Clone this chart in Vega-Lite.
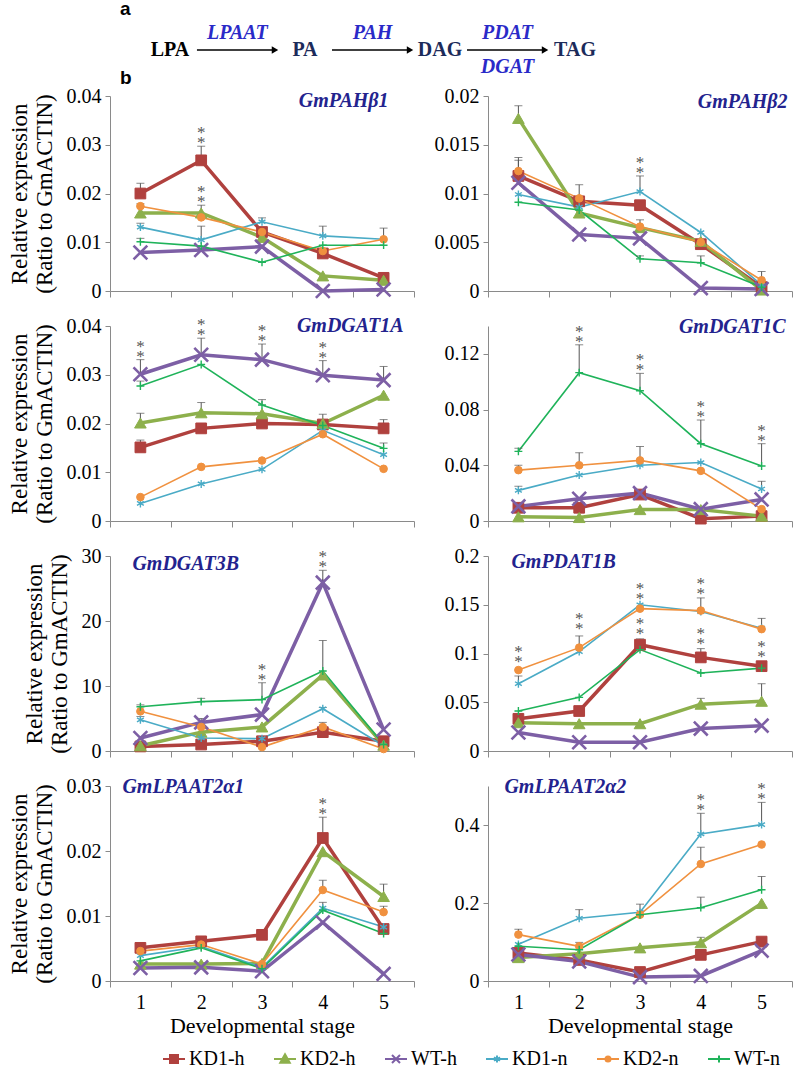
{
"$schema": "https://vega.github.io/schema/vega-lite/v6.json",
"padding": {"left": 8, "top": 0, "right": 0, "bottom": 0},
"bounds": "flush",
"spacing": 29,
"datasets": {
"expr": [
{"gene":"GmPAHβ1","stage":1,"series":"KD1-h","value":0.020,"upper":0.0221},
{"gene":"GmPAHβ1","stage":2,"series":"KD1-h","value":0.0268,"upper":0.0297},
{"gene":"GmPAHβ1","stage":3,"series":"KD1-h","value":0.0121,"upper":0.013},
{"gene":"GmPAHβ1","stage":4,"series":"KD1-h","value":0.0077},
{"gene":"GmPAHβ1","stage":5,"series":"KD1-h","value":0.0027},
{"gene":"GmPAHβ1","stage":1,"series":"KD2-h","value":0.016},
{"gene":"GmPAHβ1","stage":2,"series":"KD2-h","value":0.016,"upper":0.0176},
{"gene":"GmPAHβ1","stage":3,"series":"KD2-h","value":0.011},
{"gene":"GmPAHβ1","stage":4,"series":"KD2-h","value":0.0031},
{"gene":"GmPAHβ1","stage":5,"series":"KD2-h","value":0.0022},
{"gene":"GmPAHβ1","stage":1,"series":"WT-h","value":0.0079},
{"gene":"GmPAHβ1","stage":2,"series":"WT-h","value":0.0084},
{"gene":"GmPAHβ1","stage":3,"series":"WT-h","value":0.0091},
{"gene":"GmPAHβ1","stage":4,"series":"WT-h","value":0.0},
{"gene":"GmPAHβ1","stage":5,"series":"WT-h","value":0.0003},
{"gene":"GmPAHβ1","stage":1,"series":"KD1-n","value":0.0131,"upper":0.0139},
{"gene":"GmPAHβ1","stage":2,"series":"KD1-n","value":0.0105,"upper":0.0133},
{"gene":"GmPAHβ1","stage":3,"series":"KD1-n","value":0.0142,"upper":0.015},
{"gene":"GmPAHβ1","stage":4,"series":"KD1-n","value":0.0113,"upper":0.0133},
{"gene":"GmPAHβ1","stage":5,"series":"KD1-n","value":0.0106,"upper":0.0129},
{"gene":"GmPAHβ1","stage":1,"series":"KD2-n","value":0.0174,"upper":0.0179},
{"gene":"GmPAHβ1","stage":2,"series":"KD2-n","value":0.0151},
{"gene":"GmPAHβ1","stage":3,"series":"KD2-n","value":0.0121},
{"gene":"GmPAHβ1","stage":4,"series":"KD2-n","value":0.0082},
{"gene":"GmPAHβ1","stage":5,"series":"KD2-n","value":0.0106},
{"gene":"GmPAHβ1","stage":1,"series":"WT-n","value":0.0101,"upper":0.0108},
{"gene":"GmPAHβ1","stage":2,"series":"WT-n","value":0.0092},
{"gene":"GmPAHβ1","stage":3,"series":"WT-n","value":0.0059},
{"gene":"GmPAHβ1","stage":4,"series":"WT-n","value":0.0094},
{"gene":"GmPAHβ1","stage":5,"series":"WT-n","value":0.0094},

{"gene":"GmPAHβ2","stage":1,"series":"KD1-h","value":0.0118,"upper":0.0134},
{"gene":"GmPAHβ2","stage":2,"series":"KD1-h","value":0.0092},
{"gene":"GmPAHβ2","stage":3,"series":"KD1-h","value":0.0088},
{"gene":"GmPAHβ2","stage":4,"series":"KD1-h","value":0.0048},
{"gene":"GmPAHβ2","stage":5,"series":"KD1-h","value":0.0004},
{"gene":"GmPAHβ2","stage":1,"series":"KD2-h","value":0.0177,"upper":0.019},
{"gene":"GmPAHβ2","stage":2,"series":"KD2-h","value":0.008},
{"gene":"GmPAHβ2","stage":3,"series":"KD2-h","value":0.0065,"upper":0.0073},
{"gene":"GmPAHβ2","stage":4,"series":"KD2-h","value":0.0051},
{"gene":"GmPAHβ2","stage":5,"series":"KD2-h","value":0.0001},
{"gene":"GmPAHβ2","stage":1,"series":"WT-h","value":0.0111},
{"gene":"GmPAHβ2","stage":2,"series":"WT-h","value":0.0058},
{"gene":"GmPAHβ2","stage":3,"series":"WT-h","value":0.0054},
{"gene":"GmPAHβ2","stage":4,"series":"WT-h","value":0.0003},
{"gene":"GmPAHβ2","stage":5,"series":"WT-h","value":0.0002},
{"gene":"GmPAHβ2","stage":1,"series":"KD1-n","value":0.0099},
{"gene":"GmPAHβ2","stage":2,"series":"KD1-n","value":0.0086},
{"gene":"GmPAHβ2","stage":3,"series":"KD1-n","value":0.0102,"upper":0.0118},
{"gene":"GmPAHβ2","stage":4,"series":"KD1-n","value":0.006},
{"gene":"GmPAHβ2","stage":5,"series":"KD1-n","value":0.0006},
{"gene":"GmPAHβ2","stage":1,"series":"KD2-n","value":0.0123,"upper":0.0137},
{"gene":"GmPAHβ2","stage":2,"series":"KD2-n","value":0.0095,"upper":0.0109},
{"gene":"GmPAHβ2","stage":3,"series":"KD2-n","value":0.0066},
{"gene":"GmPAHβ2","stage":4,"series":"KD2-n","value":0.005},
{"gene":"GmPAHβ2","stage":5,"series":"KD2-n","value":0.0011,"upper":0.002},
{"gene":"GmPAHβ2","stage":1,"series":"WT-n","value":0.0091},
{"gene":"GmPAHβ2","stage":2,"series":"WT-n","value":0.0083},
{"gene":"GmPAHβ2","stage":3,"series":"WT-n","value":0.0033,"upper":0.0036},
{"gene":"GmPAHβ2","stage":4,"series":"WT-n","value":0.0029,"upper":0.0036},
{"gene":"GmPAHβ2","stage":5,"series":"WT-n","value":0.0004},

{"gene":"GmDGAT1A","stage":1,"series":"KD1-h","value":0.0151,"upper":0.0166},
{"gene":"GmDGAT1A","stage":2,"series":"KD1-h","value":0.019},
{"gene":"GmDGAT1A","stage":3,"series":"KD1-h","value":0.02},
{"gene":"GmDGAT1A","stage":4,"series":"KD1-h","value":0.0198,"upper":0.0219},
{"gene":"GmDGAT1A","stage":5,"series":"KD1-h","value":0.019,"upper":0.0208},
{"gene":"GmDGAT1A","stage":1,"series":"KD2-h","value":0.0201,"upper":0.0221},
{"gene":"GmDGAT1A","stage":2,"series":"KD2-h","value":0.0222,"upper":0.0243},
{"gene":"GmDGAT1A","stage":3,"series":"KD2-h","value":0.022},
{"gene":"GmDGAT1A","stage":4,"series":"KD2-h","value":0.02},
{"gene":"GmDGAT1A","stage":5,"series":"KD2-h","value":0.0258},
{"gene":"GmDGAT1A","stage":1,"series":"WT-h","value":0.0301,"upper":0.0331},
{"gene":"GmDGAT1A","stage":2,"series":"WT-h","value":0.0341,"upper":0.0375},
{"gene":"GmDGAT1A","stage":3,"series":"WT-h","value":0.0331,"upper":0.0363},
{"gene":"GmDGAT1A","stage":4,"series":"WT-h","value":0.0299,"upper":0.0329},
{"gene":"GmDGAT1A","stage":5,"series":"WT-h","value":0.0289,"upper":0.0317},
{"gene":"GmDGAT1A","stage":1,"series":"KD1-n","value":0.0036},
{"gene":"GmDGAT1A","stage":2,"series":"KD1-n","value":0.0076},
{"gene":"GmDGAT1A","stage":3,"series":"KD1-n","value":0.0106},
{"gene":"GmDGAT1A","stage":4,"series":"KD1-n","value":0.0186},
{"gene":"GmDGAT1A","stage":5,"series":"KD1-n","value":0.0136},
{"gene":"GmDGAT1A","stage":1,"series":"KD2-n","value":0.0049},
{"gene":"GmDGAT1A","stage":2,"series":"KD2-n","value":0.0111},
{"gene":"GmDGAT1A","stage":3,"series":"KD2-n","value":0.0124},
{"gene":"GmDGAT1A","stage":4,"series":"KD2-n","value":0.0178},
{"gene":"GmDGAT1A","stage":5,"series":"KD2-n","value":0.0107},
{"gene":"GmDGAT1A","stage":1,"series":"WT-n","value":0.0277,"upper":0.0287},
{"gene":"GmDGAT1A","stage":2,"series":"WT-n","value":0.0321},
{"gene":"GmDGAT1A","stage":3,"series":"WT-n","value":0.0238,"upper":0.0249},
{"gene":"GmDGAT1A","stage":4,"series":"WT-n","value":0.0196},
{"gene":"GmDGAT1A","stage":5,"series":"WT-n","value":0.0149,"upper":0.016},

{"gene":"GmDGAT1C","stage":1,"series":"KD1-h","value":0.0095},
{"gene":"GmDGAT1C","stage":2,"series":"KD1-h","value":0.0095},
{"gene":"GmDGAT1C","stage":3,"series":"KD1-h","value":0.019},
{"gene":"GmDGAT1C","stage":4,"series":"KD1-h","value":0.0017},
{"gene":"GmDGAT1C","stage":5,"series":"KD1-h","value":0.0035},
{"gene":"GmDGAT1C","stage":1,"series":"KD2-h","value":0.003},
{"gene":"GmDGAT1C","stage":2,"series":"KD2-h","value":0.0025},
{"gene":"GmDGAT1C","stage":3,"series":"KD2-h","value":0.0082},
{"gene":"GmDGAT1C","stage":4,"series":"KD2-h","value":0.0082},
{"gene":"GmDGAT1C","stage":5,"series":"KD2-h","value":0.0035},
{"gene":"GmDGAT1C","stage":1,"series":"WT-h","value":0.0105},
{"gene":"GmDGAT1C","stage":2,"series":"WT-h","value":0.016},
{"gene":"GmDGAT1C","stage":3,"series":"WT-h","value":0.02},
{"gene":"GmDGAT1C","stage":4,"series":"WT-h","value":0.0085},
{"gene":"GmDGAT1C","stage":5,"series":"WT-h","value":0.0155},
{"gene":"GmDGAT1C","stage":1,"series":"KD1-n","value":0.022,"upper":0.025},
{"gene":"GmDGAT1C","stage":2,"series":"KD1-n","value":0.033},
{"gene":"GmDGAT1C","stage":3,"series":"KD1-n","value":0.04},
{"gene":"GmDGAT1C","stage":4,"series":"KD1-n","value":0.042},
{"gene":"GmDGAT1C","stage":5,"series":"KD1-n","value":0.023,"upper":0.0285},
{"gene":"GmDGAT1C","stage":1,"series":"KD2-n","value":0.0365,"upper":0.04},
{"gene":"GmDGAT1C","stage":2,"series":"KD2-n","value":0.04,"upper":0.049},
{"gene":"GmDGAT1C","stage":3,"series":"KD2-n","value":0.0435,"upper":0.0535},
{"gene":"GmDGAT1C","stage":4,"series":"KD2-n","value":0.036},
{"gene":"GmDGAT1C","stage":5,"series":"KD2-n","value":0.0085},
{"gene":"GmDGAT1C","stage":1,"series":"WT-n","value":0.05,"upper":0.0523},
{"gene":"GmDGAT1C","stage":2,"series":"WT-n","value":0.1065,"upper":0.1265},
{"gene":"GmDGAT1C","stage":3,"series":"WT-n","value":0.0935,"upper":0.106},
{"gene":"GmDGAT1C","stage":4,"series":"WT-n","value":0.0555,"upper":0.0725},
{"gene":"GmDGAT1C","stage":5,"series":"WT-n","value":0.0395,"upper":0.0555},

{"gene":"GmDGAT3B","stage":1,"series":"KD1-h","value":0.7},
{"gene":"GmDGAT3B","stage":2,"series":"KD1-h","value":1.0},
{"gene":"GmDGAT3B","stage":3,"series":"KD1-h","value":1.5},
{"gene":"GmDGAT3B","stage":4,"series":"KD1-h","value":2.9,"upper":3.8},
{"gene":"GmDGAT3B","stage":5,"series":"KD1-h","value":1.5},
{"gene":"GmDGAT3B","stage":1,"series":"KD2-h","value":0.8},
{"gene":"GmDGAT3B","stage":2,"series":"KD2-h","value":2.9},
{"gene":"GmDGAT3B","stage":3,"series":"KD2-h","value":3.7},
{"gene":"GmDGAT3B","stage":4,"series":"KD2-h","value":11.7},
{"gene":"GmDGAT3B","stage":5,"series":"KD2-h","value":0.9},
{"gene":"GmDGAT3B","stage":1,"series":"WT-h","value":2.0},
{"gene":"GmDGAT3B","stage":2,"series":"WT-h","value":4.4,"upper":5.0},
{"gene":"GmDGAT3B","stage":3,"series":"WT-h","value":5.6},
{"gene":"GmDGAT3B","stage":4,"series":"WT-h","value":25.9,"upper":27.8},
{"gene":"GmDGAT3B","stage":5,"series":"WT-h","value":3.3},
{"gene":"GmDGAT3B","stage":1,"series":"KD1-n","value":4.8,"upper":5.3},
{"gene":"GmDGAT3B","stage":2,"series":"KD1-n","value":2.0},
{"gene":"GmDGAT3B","stage":3,"series":"KD1-n","value":1.9},
{"gene":"GmDGAT3B","stage":4,"series":"KD1-n","value":6.5,"upper":6.7},
{"gene":"GmDGAT3B","stage":5,"series":"KD1-n","value":0.8},
{"gene":"GmDGAT3B","stage":1,"series":"KD2-n","value":6.1},
{"gene":"GmDGAT3B","stage":2,"series":"KD2-n","value":3.7},
{"gene":"GmDGAT3B","stage":3,"series":"KD2-n","value":0.6},
{"gene":"GmDGAT3B","stage":4,"series":"KD2-n","value":3.7,"upper":4.4},
{"gene":"GmDGAT3B","stage":5,"series":"KD2-n","value":0.3},
{"gene":"GmDGAT3B","stage":1,"series":"WT-n","value":6.8,"upper":7.1},
{"gene":"GmDGAT3B","stage":2,"series":"WT-n","value":7.6,"upper":8.1},
{"gene":"GmDGAT3B","stage":3,"series":"WT-n","value":7.9,"upper":10.5},
{"gene":"GmDGAT3B","stage":4,"series":"WT-n","value":12.3,"upper":17.0},
{"gene":"GmDGAT3B","stage":5,"series":"WT-n","value":1.0},

{"gene":"GmPDAT1B","stage":1,"series":"KD1-h","value":0.033},
{"gene":"GmPDAT1B","stage":2,"series":"KD1-h","value":0.041},
{"gene":"GmPDAT1B","stage":3,"series":"KD1-h","value":0.109,"upper":0.115},
{"gene":"GmPDAT1B","stage":4,"series":"KD1-h","value":0.096,"upper":0.105},
{"gene":"GmPDAT1B","stage":5,"series":"KD1-h","value":0.087},
{"gene":"GmPDAT1B","stage":1,"series":"KD2-h","value":0.029},
{"gene":"GmPDAT1B","stage":2,"series":"KD2-h","value":0.028},
{"gene":"GmPDAT1B","stage":3,"series":"KD2-h","value":0.028},
{"gene":"GmPDAT1B","stage":4,"series":"KD2-h","value":0.048,"upper":0.054},
{"gene":"GmPDAT1B","stage":5,"series":"KD2-h","value":0.051,"upper":0.069},
{"gene":"GmPDAT1B","stage":1,"series":"WT-h","value":0.019},
{"gene":"GmPDAT1B","stage":2,"series":"WT-h","value":0.009},
{"gene":"GmPDAT1B","stage":3,"series":"WT-h","value":0.009},
{"gene":"GmPDAT1B","stage":4,"series":"WT-h","value":0.023},
{"gene":"GmPDAT1B","stage":5,"series":"WT-h","value":0.026},
{"gene":"GmPDAT1B","stage":1,"series":"KD1-n","value":0.069,"upper":0.077},
{"gene":"GmPDAT1B","stage":2,"series":"KD1-n","value":0.102},
{"gene":"GmPDAT1B","stage":3,"series":"KD1-n","value":0.15},
{"gene":"GmPDAT1B","stage":4,"series":"KD1-n","value":0.143},
{"gene":"GmPDAT1B","stage":5,"series":"KD1-n","value":0.126},
{"gene":"GmPDAT1B","stage":1,"series":"KD2-n","value":0.083},
{"gene":"GmPDAT1B","stage":2,"series":"KD2-n","value":0.106,"upper":0.118},
{"gene":"GmPDAT1B","stage":3,"series":"KD2-n","value":0.146},
{"gene":"GmPDAT1B","stage":4,"series":"KD2-n","value":0.144,"upper":0.157},
{"gene":"GmPDAT1B","stage":5,"series":"KD2-n","value":0.125,"upper":0.136},
{"gene":"GmPDAT1B","stage":1,"series":"WT-n","value":0.041},
{"gene":"GmPDAT1B","stage":2,"series":"WT-n","value":0.055},
{"gene":"GmPDAT1B","stage":3,"series":"WT-n","value":0.104},
{"gene":"GmPDAT1B","stage":4,"series":"WT-n","value":0.08},
{"gene":"GmPDAT1B","stage":5,"series":"WT-n","value":0.085},

{"gene":"GmLPAAT2α1","stage":1,"series":"KD1-h","value":0.0051},
{"gene":"GmLPAAT2α1","stage":2,"series":"KD1-h","value":0.0061},
{"gene":"GmLPAAT2α1","stage":3,"series":"KD1-h","value":0.0071},
{"gene":"GmLPAAT2α1","stage":4,"series":"KD1-h","value":0.022,"upper":0.0252},
{"gene":"GmLPAAT2α1","stage":5,"series":"KD1-h","value":0.008},
{"gene":"GmLPAAT2α1","stage":1,"series":"KD2-h","value":0.0026},
{"gene":"GmLPAAT2α1","stage":2,"series":"KD2-h","value":0.0026},
{"gene":"GmLPAAT2α1","stage":3,"series":"KD2-h","value":0.0027},
{"gene":"GmLPAAT2α1","stage":4,"series":"KD2-h","value":0.0199},
{"gene":"GmLPAAT2α1","stage":5,"series":"KD2-h","value":0.013,"upper":0.0149},
{"gene":"GmLPAAT2α1","stage":1,"series":"WT-h","value":0.002},
{"gene":"GmLPAAT2α1","stage":2,"series":"WT-h","value":0.0021},
{"gene":"GmLPAAT2α1","stage":3,"series":"WT-h","value":0.0015},
{"gene":"GmLPAAT2α1","stage":4,"series":"WT-h","value":0.009},
{"gene":"GmLPAAT2α1","stage":5,"series":"WT-h","value":0.0011},
{"gene":"GmLPAAT2α1","stage":1,"series":"KD1-n","value":0.0039},
{"gene":"GmLPAAT2α1","stage":2,"series":"KD1-n","value":0.0053},
{"gene":"GmLPAAT2α1","stage":3,"series":"KD1-n","value":0.0021},
{"gene":"GmLPAAT2α1","stage":4,"series":"KD1-n","value":0.0112,"upper":0.0121},
{"gene":"GmLPAAT2α1","stage":5,"series":"KD1-n","value":0.0083},
{"gene":"GmLPAAT2α1","stage":1,"series":"KD2-n","value":0.0046},
{"gene":"GmLPAAT2α1","stage":2,"series":"KD2-n","value":0.0056},
{"gene":"GmLPAAT2α1","stage":3,"series":"KD2-n","value":0.0026},
{"gene":"GmLPAAT2α1","stage":4,"series":"KD2-n","value":0.014,"upper":0.0155},
{"gene":"GmLPAAT2α1","stage":5,"series":"KD2-n","value":0.0106,"upper":0.0115},
{"gene":"GmLPAAT2α1","stage":1,"series":"WT-n","value":0.0031},
{"gene":"GmLPAAT2α1","stage":2,"series":"WT-n","value":0.0051},
{"gene":"GmLPAAT2α1","stage":3,"series":"WT-n","value":0.0019},
{"gene":"GmLPAAT2α1","stage":4,"series":"WT-n","value":0.0109},
{"gene":"GmLPAAT2α1","stage":5,"series":"WT-n","value":0.0073},

{"gene":"GmLPAAT2α2","stage":1,"series":"KD1-h","value":0.072},
{"gene":"GmLPAAT2α2","stage":2,"series":"KD1-h","value":0.054},
{"gene":"GmLPAAT2α2","stage":3,"series":"KD1-h","value":0.023},
{"gene":"GmLPAAT2α2","stage":4,"series":"KD1-h","value":0.067},
{"gene":"GmLPAAT2α2","stage":5,"series":"KD1-h","value":0.101},
{"gene":"GmLPAAT2α2","stage":1,"series":"KD2-h","value":0.06},
{"gene":"GmLPAAT2α2","stage":2,"series":"KD2-h","value":0.07},
{"gene":"GmLPAAT2α2","stage":3,"series":"KD2-h","value":0.085},
{"gene":"GmLPAAT2α2","stage":4,"series":"KD2-h","value":0.098,"upper":0.112},
{"gene":"GmLPAAT2α2","stage":5,"series":"KD2-h","value":0.199},
{"gene":"GmLPAAT2α2","stage":1,"series":"WT-h","value":0.068},
{"gene":"GmLPAAT2α2","stage":2,"series":"WT-h","value":0.05},
{"gene":"GmLPAAT2α2","stage":3,"series":"WT-h","value":0.01},
{"gene":"GmLPAAT2α2","stage":4,"series":"WT-h","value":0.013},
{"gene":"GmLPAAT2α2","stage":5,"series":"WT-h","value":0.078},
{"gene":"GmLPAAT2α2","stage":1,"series":"KD1-n","value":0.094},
{"gene":"GmLPAAT2α2","stage":2,"series":"KD1-n","value":0.161,"upper":0.183},
{"gene":"GmLPAAT2α2","stage":3,"series":"KD1-n","value":0.176,"upper":0.197},
{"gene":"GmLPAAT2α2","stage":4,"series":"KD1-n","value":0.377,"upper":0.43},
{"gene":"GmLPAAT2α2","stage":5,"series":"KD1-n","value":0.401,"upper":0.458},
{"gene":"GmLPAAT2α2","stage":1,"series":"KD2-n","value":0.119,"upper":0.133},
{"gene":"GmLPAAT2α2","stage":2,"series":"KD2-n","value":0.089,"upper":0.099},
{"gene":"GmLPAAT2α2","stage":3,"series":"KD2-n","value":0.17},
{"gene":"GmLPAAT2α2","stage":4,"series":"KD2-n","value":0.3,"upper":0.343},
{"gene":"GmLPAAT2α2","stage":5,"series":"KD2-n","value":0.35},
{"gene":"GmLPAAT2α2","stage":1,"series":"WT-n","value":0.089},
{"gene":"GmLPAAT2α2","stage":2,"series":"WT-n","value":0.08},
{"gene":"GmLPAAT2α2","stage":3,"series":"WT-n","value":0.17},
{"gene":"GmLPAAT2α2","stage":4,"series":"WT-n","value":0.188,"upper":0.215},
{"gene":"GmLPAAT2α2","stage":5,"series":"WT-n","value":0.234,"upper":0.268}
],
"sig": [
{"gene":"GmPAHβ1","stage":2,"y":0.0297},
{"gene":"GmPAHβ1","stage":2,"y":0.0176},
{"gene":"GmPAHβ2","stage":3,"y":0.0118},
{"gene":"GmDGAT1A","stage":1,"y":0.0331},
{"gene":"GmDGAT1A","stage":2,"y":0.0375},
{"gene":"GmDGAT1A","stage":3,"y":0.0363},
{"gene":"GmDGAT1A","stage":4,"y":0.0329},
{"gene":"GmDGAT1C","stage":2,"y":0.1265},
{"gene":"GmDGAT1C","stage":3,"y":0.106},
{"gene":"GmDGAT1C","stage":4,"y":0.0725},
{"gene":"GmDGAT1C","stage":5,"y":0.0555},
{"gene":"GmDGAT3B","stage":3,"y":10.5},
{"gene":"GmDGAT3B","stage":4,"y":27.8},
{"gene":"GmPDAT1B","stage":1,"y":0.088},
{"gene":"GmPDAT1B","stage":2,"y":0.122},
{"gene":"GmPDAT1B","stage":3,"y":0.153},
{"gene":"GmPDAT1B","stage":3,"y":0.117},
{"gene":"GmPDAT1B","stage":4,"y":0.158},
{"gene":"GmPDAT1B","stage":4,"y":0.107},
{"gene":"GmPDAT1B","stage":5,"y":0.093},
{"gene":"GmLPAAT2α1","stage":4,"y":0.0252},
{"gene":"GmLPAAT2α2","stage":4,"y":0.43},
{"gene":"GmLPAAT2α2","stage":5,"y":0.458}
]
},
"vconcat": [
{
"width": 525, "height": 34,
"title": {"text": "a", "anchor": "start", "frame": "group", "font": "'Liberation Sans', Arial, sans-serif", "fontSize": 19, "fontWeight": "bold", "color": "#000", "dx": 10, "offset": 4},
"layer": [
{"data": {"values": [{"node":"LPA"},{"node":"PA"},{"node":"DAG"},{"node":"TAG"}]},
 "mark": {"type":"text","font":"'Liberation Serif', 'Times New Roman', serif","fontSize":20,"fontWeight":"bold","baseline":"middle"},
 "encoding": {
  "x": {"field":"node","type":"nominal","scale":{"type":"point","domain":["LPA","PA","DAG","TAG"],"padding":0.444},"axis":null},
  "y": {"datum":"mid","type":"nominal","scale":{"type":"point","domain":["above","mid","below"],"padding":0},"axis":null},
  "text": {"field":"node"},
  "color": {"condition": {"test": "datum.node === 'LPA'", "value": "#000"}, "value": "#1C2B5A"}}},
{"data": {"values": [{"from":"LPA","to":"PA"},{"from":"PA","to":"DAG"},{"from":"DAG","to":"TAG"}]},
 "mark": {"type":"rule","color":"#000","strokeWidth":1.5,"xOffset":27,"x2Offset":-31},
 "encoding": {
  "x": {"field":"from","type":"nominal","scale":{"type":"point","domain":["LPA","PA","DAG","TAG"],"padding":0.444},"axis":null},
  "x2": {"field":"to"},
  "y": {"datum":"mid","type":"nominal","scale":{"type":"point","domain":["above","mid","below"],"padding":0},"axis":null}}},
{"data": {"values": [{"from":"LPA","to":"PA"},{"from":"PA","to":"DAG"},{"from":"DAG","to":"TAG"}]},
 "mark": {"type":"point","shape":"triangle-right","filled":true,"color":"#000","size":55,"opacity":1,"xOffset":-30},
 "encoding": {
  "x": {"field":"to","type":"nominal","scale":{"type":"point","domain":["LPA","PA","DAG","TAG"],"padding":0.444},"axis":null},
  "y": {"datum":"mid","type":"nominal","scale":{"type":"point","domain":["above","mid","below"],"padding":0},"axis":null}}},
{"data": {"values": [{"enzyme":"LPAAT","from":"LPA","side":"above"},{"enzyme":"PAH","from":"PA","side":"above"},{"enzyme":"PDAT","from":"DAG","side":"above"},{"enzyme":"DGAT","from":"DAG","side":"below"}]},
 "mark": {"type":"text","font":"'Liberation Serif', 'Times New Roman', serif","fontSize":20,"fontWeight":"bold","fontStyle":"italic","color":"#2A2AC8","xOffset":67.5,"baseline":"middle"},
 "encoding": {
  "x": {"field":"from","type":"nominal","scale":{"type":"point","domain":["LPA","PA","DAG","TAG"],"padding":0.444},"axis":null},
  "y": {"field":"side","type":"nominal","scale":{"type":"point","domain":["above","mid","below"],"padding":0},"axis":null},
  "text": {"field":"enzyme"}}}
]
},
{
"title": {"text": "b", "anchor": "start", "frame": "group", "font": "'Liberation Sans', Arial, sans-serif", "fontSize": 19, "fontWeight": "bold", "color": "#000", "dx": 10, "offset": -2},
"columns": 2,
"bounds": "flush",
"spacing": {"row": 35, "column": 74},
"concat": [
{"width": 304, "height": 195, "layer": [
 {"data":{"name":"expr"},"transform":[{"filter":"datum.gene === 'GmPAHβ1' && indexof(datum.series, '-h') > 0"}],"mark":{"type":"line","strokeWidth":3.5},
  "encoding":{"x":{"field":"stage","type":"ordinal","scale":{"type":"band","domain":[1,2,3,4,5],"paddingInner":0,"paddingOuter":0},"axis":{"labels":false,"title":null,"tickBand":"extent","tickSize":6}},
   "y":{"field":"value","type":"quantitative","scale":{"domain":[0,0.04],"nice":false},"axis":{"values":[0,0.01,0.02,0.03,0.04],"format":"~g","labelOverlap":false,"title":["Relative expression","(Ratio to GmACTIN)"]}},
   "color":{"field":"series","type":"nominal","scale":{"domain":["KD1-h","KD2-h","WT-h","KD1-n","KD2-n","WT-n"],"range":["#B0413E","#8DB04C","#7D5FA5","#4AABC6","#F0913F","#1FB35A"]}}}},
 {"data":{"name":"expr"},"transform":[{"filter":"datum.gene === 'GmPAHβ1' && indexof(datum.series, '-n') > 0"}],"mark":{"type":"line","strokeWidth":1.6},
  "encoding":{"x":{"field":"stage","type":"ordinal","scale":{"type":"band","domain":[1,2,3,4,5],"paddingInner":0,"paddingOuter":0}},
   "y":{"field":"value","type":"quantitative","scale":{"domain":[0,0.04],"nice":false}},
   "color":{"field":"series","type":"nominal"}}},
 {"data":{"name":"expr"},"transform":[{"filter":"datum.gene === 'GmPAHβ1' && isValid(datum.upper)"}],"mark":{"type":"rule","color":"#555","strokeWidth":1},
  "encoding":{"x":{"field":"stage","type":"ordinal","scale":{"type":"band","domain":[1,2,3,4,5],"paddingInner":0,"paddingOuter":0}},
   "y":{"field":"value","type":"quantitative","scale":{"domain":[0,0.04],"nice":false}},"y2":{"field":"upper"}}},
 {"data":{"name":"expr"},"transform":[{"filter":"datum.gene === 'GmPAHβ1' && isValid(datum.upper)"}],"mark":{"type":"tick","color":"#555","size":8,"thickness":1},
  "encoding":{"x":{"field":"stage","type":"ordinal","scale":{"type":"band","domain":[1,2,3,4,5],"paddingInner":0,"paddingOuter":0}},
   "y":{"field":"upper","type":"quantitative","scale":{"domain":[0,0.04],"nice":false}}}},
 {"data":{"name":"expr"},"transform":[{"filter":"datum.gene === 'GmPAHβ1'"}],"mark":{"type":"point","filled":true,"opacity":1},
  "encoding":{"x":{"field":"stage","type":"ordinal","scale":{"type":"band","domain":[1,2,3,4,5],"paddingInner":0,"paddingOuter":0}},
   "y":{"field":"value","type":"quantitative","scale":{"domain":[0,0.04],"nice":false}},
   "color":{"field":"series","type":"nominal"},
   "stroke":{"field":"series","type":"nominal","scale":{"domain":["KD1-h","KD2-h","WT-h","KD1-n","KD2-n","WT-n"],"range":["#B0413E","#8DB04C","#7D5FA5","#4AABC6","#F0913F","#1FB35A"]}},
   "shape":{"condition":[{"test":"datum.series === 'KD1-h'","value":"square"},{"test":"datum.series === 'KD2-h'","value":"triangle-up"},{"test":"datum.series === 'WT-h'","value":"M-1,-1L1,1M-1,1L1,-1"},{"test":"datum.series === 'KD1-n'","value":"M0,-1V1M-0.87,-0.5L0.87,0.5M-0.87,0.5L0.87,-0.5"},{"test":"datum.series === 'KD2-n'","value":"circle"}],"value":"M-1,0H1M0,-1V1"},
   "size":{"condition":[{"test":"datum.series === 'KD1-h'","value":115},{"test":"datum.series === 'KD2-h'","value":135},{"test":"datum.series === 'WT-h'","value":190},{"test":"datum.series === 'KD2-n'","value":58}],"value":62},
   "strokeWidth":{"condition":[{"test":"datum.series === 'WT-h'","value":2.6},{"test":"datum.series === 'KD1-n' || datum.series === 'WT-n'","value":1.4}],"value":1}}},
 {"data":{"name":"expr"},"transform":[{"filter":"false"}],"mark":{"type":"point","filled":true},
  "encoding":{"x":{"field":"stage","type":"ordinal","scale":{"type":"band","domain":[1,2,3,4,5],"paddingInner":0,"paddingOuter":0}},
   "y":{"field":"value","type":"quantitative","scale":{"domain":[0,0.04],"nice":false}},
   "color":{"field":"series","type":"nominal"},
   "stroke":{"field":"series","type":"nominal"},
   "shape":{"field":"series","type":"nominal","scale":{"domain":["KD1-h","KD2-h","WT-h","KD1-n","KD2-n","WT-n"],"range":["M-2.2,0H2.2M-0.8,-0.8H0.8V0.8H-0.8Z","M-2.2,0H2.2M0,-0.95L0.95,0.75H-0.95Z","M-2.2,0H2.2M-0.8,-0.8L0.8,0.8M-0.8,0.8L0.8,-0.8","M-2.2,0H2.2M0,-0.7V0.7M-0.6,-0.35L0.6,0.35M-0.6,0.35L0.6,-0.35","M-2.2,0H2.2M0.5,0A0.5,0.5,0,1,1,-0.5,0A0.5,0.5,0,1,1,0.5,0Z","M-2.2,0H2.2M0,-0.7V0.7"]},
    "legend":{"orient":"none","legendX":54,"legendY":1016,"direction":"horizontal","columns":6,"title":null,"padding":0,"symbolSize":100,"symbolStrokeWidth":2,"symbolOpacity":1,"labelFont":"'Liberation Serif', 'Times New Roman', serif","labelFontSize":20,"labelColor":"#000","labelOffset":5,"columnPadding":25}}}},
 {"data":{"name":"sig"},"transform":[{"filter":"datum.gene === 'GmPAHβ1'"}],"mark":{"type":"text","font":"'Liberation Serif', 'Times New Roman', serif","fontSize":17,"color":"#555","lineHeight":10,"baseline":"bottom","dy":-4},
  "encoding":{"x":{"field":"stage","type":"ordinal","scale":{"type":"band","domain":[1,2,3,4,5],"paddingInner":0,"paddingOuter":0}},
   "y":{"field":"y","type":"quantitative","scale":{"domain":[0,0.04],"nice":false}},"text":{"value":["*","*"]}}},
 {"data":{"values":[{"gene":"GmPAHβ1"}]},"mark":{"type":"text","font":"'Liberation Serif', 'Times New Roman', serif","fontSize":20,"fontWeight":"bold","fontStyle":"italic","color":"#23238E","align":"right","baseline":"middle","dx":5,"dy":5},
  "encoding":{"x":{"datum":5,"type":"ordinal","scale":{"type":"band","domain":[1,2,3,4,5],"paddingInner":0,"paddingOuter":0}},
   "y":{"datum":0.04,"type":"quantitative","scale":{"domain":[0,0.04],"nice":false}},"text":{"field":"gene"}}}
]},

{"width": 304, "height": 195, "layer": [
 {"data":{"name":"expr"},"transform":[{"filter":"datum.gene === 'GmPAHβ2' && indexof(datum.series, '-h') > 0"}],"mark":{"type":"line","strokeWidth":3.5},
  "encoding":{"x":{"field":"stage","type":"ordinal","scale":{"type":"band","domain":[1,2,3,4,5],"paddingInner":0,"paddingOuter":0},"axis":{"labels":false,"title":null,"tickBand":"extent","tickSize":6}},
   "y":{"field":"value","type":"quantitative","scale":{"domain":[0,0.02],"nice":false},"axis":{"values":[0,0.005,0.01,0.015,0.02],"format":"~g","labelOverlap":false,"title":null}},
   "color":{"field":"series","type":"nominal"}}},
 {"data":{"name":"expr"},"transform":[{"filter":"datum.gene === 'GmPAHβ2' && indexof(datum.series, '-n') > 0"}],"mark":{"type":"line","strokeWidth":1.6},
  "encoding":{"x":{"field":"stage","type":"ordinal","scale":{"type":"band","domain":[1,2,3,4,5],"paddingInner":0,"paddingOuter":0}},
   "y":{"field":"value","type":"quantitative","scale":{"domain":[0,0.02],"nice":false}},
   "color":{"field":"series","type":"nominal"}}},
 {"data":{"name":"expr"},"transform":[{"filter":"datum.gene === 'GmPAHβ2' && isValid(datum.upper)"}],"mark":{"type":"rule","color":"#555","strokeWidth":1},
  "encoding":{"x":{"field":"stage","type":"ordinal","scale":{"type":"band","domain":[1,2,3,4,5],"paddingInner":0,"paddingOuter":0}},
   "y":{"field":"value","type":"quantitative","scale":{"domain":[0,0.02],"nice":false}},"y2":{"field":"upper"}}},
 {"data":{"name":"expr"},"transform":[{"filter":"datum.gene === 'GmPAHβ2' && isValid(datum.upper)"}],"mark":{"type":"tick","color":"#555","size":8,"thickness":1},
  "encoding":{"x":{"field":"stage","type":"ordinal","scale":{"type":"band","domain":[1,2,3,4,5],"paddingInner":0,"paddingOuter":0}},
   "y":{"field":"upper","type":"quantitative","scale":{"domain":[0,0.02],"nice":false}}}},
 {"data":{"name":"expr"},"transform":[{"filter":"datum.gene === 'GmPAHβ2'"}],"mark":{"type":"point","filled":true,"opacity":1},
  "encoding":{"x":{"field":"stage","type":"ordinal","scale":{"type":"band","domain":[1,2,3,4,5],"paddingInner":0,"paddingOuter":0}},
   "y":{"field":"value","type":"quantitative","scale":{"domain":[0,0.02],"nice":false}},
   "color":{"field":"series","type":"nominal"},
   "stroke":{"field":"series","type":"nominal"},
   "shape":{"condition":[{"test":"datum.series === 'KD1-h'","value":"square"},{"test":"datum.series === 'KD2-h'","value":"triangle-up"},{"test":"datum.series === 'WT-h'","value":"M-1,-1L1,1M-1,1L1,-1"},{"test":"datum.series === 'KD1-n'","value":"M0,-1V1M-0.87,-0.5L0.87,0.5M-0.87,0.5L0.87,-0.5"},{"test":"datum.series === 'KD2-n'","value":"circle"}],"value":"M-1,0H1M0,-1V1"},
   "size":{"condition":[{"test":"datum.series === 'KD1-h'","value":115},{"test":"datum.series === 'KD2-h'","value":135},{"test":"datum.series === 'WT-h'","value":190},{"test":"datum.series === 'KD2-n'","value":58}],"value":62},
   "strokeWidth":{"condition":[{"test":"datum.series === 'WT-h'","value":2.6},{"test":"datum.series === 'KD1-n' || datum.series === 'WT-n'","value":1.4}],"value":1}}},
 {"data":{"name":"sig"},"transform":[{"filter":"datum.gene === 'GmPAHβ2'"}],"mark":{"type":"text","font":"'Liberation Serif', 'Times New Roman', serif","fontSize":17,"color":"#555","lineHeight":10,"baseline":"bottom","dy":-4},
  "encoding":{"x":{"field":"stage","type":"ordinal","scale":{"type":"band","domain":[1,2,3,4,5],"paddingInner":0,"paddingOuter":0}},
   "y":{"field":"y","type":"quantitative","scale":{"domain":[0,0.02],"nice":false}},"text":{"value":["*","*"]}}},
 {"data":{"values":[{"gene":"GmPAHβ2"}]},"mark":{"type":"text","font":"'Liberation Serif', 'Times New Roman', serif","fontSize":20,"fontWeight":"bold","fontStyle":"italic","color":"#23238E","align":"right","baseline":"middle","dx":26,"dy":6},
  "encoding":{"x":{"datum":5,"type":"ordinal","scale":{"type":"band","domain":[1,2,3,4,5],"paddingInner":0,"paddingOuter":0}},
   "y":{"datum":0.02,"type":"quantitative","scale":{"domain":[0,0.02],"nice":false}},"text":{"field":"gene"}}}
]},

{"width": 304, "height": 195, "layer": [
 {"data":{"name":"expr"},"transform":[{"filter":"datum.gene === 'GmDGAT1A' && indexof(datum.series, '-h') > 0"}],"mark":{"type":"line","strokeWidth":3.5},
  "encoding":{"x":{"field":"stage","type":"ordinal","scale":{"type":"band","domain":[1,2,3,4,5],"paddingInner":0,"paddingOuter":0},"axis":{"labels":false,"title":null,"tickBand":"extent","tickSize":6}},
   "y":{"field":"value","type":"quantitative","scale":{"domain":[0,0.04],"nice":false},"axis":{"values":[0,0.01,0.02,0.03,0.04],"format":"~g","labelOverlap":false,"title":["Relative expression","(Ratio to GmACTIN)"]}},
   "color":{"field":"series","type":"nominal"}}},
 {"data":{"name":"expr"},"transform":[{"filter":"datum.gene === 'GmDGAT1A' && indexof(datum.series, '-n') > 0"}],"mark":{"type":"line","strokeWidth":1.6},
  "encoding":{"x":{"field":"stage","type":"ordinal","scale":{"type":"band","domain":[1,2,3,4,5],"paddingInner":0,"paddingOuter":0}},
   "y":{"field":"value","type":"quantitative","scale":{"domain":[0,0.04],"nice":false}},
   "color":{"field":"series","type":"nominal"}}},
 {"data":{"name":"expr"},"transform":[{"filter":"datum.gene === 'GmDGAT1A' && isValid(datum.upper)"}],"mark":{"type":"rule","color":"#555","strokeWidth":1},
  "encoding":{"x":{"field":"stage","type":"ordinal","scale":{"type":"band","domain":[1,2,3,4,5],"paddingInner":0,"paddingOuter":0}},
   "y":{"field":"value","type":"quantitative","scale":{"domain":[0,0.04],"nice":false}},"y2":{"field":"upper"}}},
 {"data":{"name":"expr"},"transform":[{"filter":"datum.gene === 'GmDGAT1A' && isValid(datum.upper)"}],"mark":{"type":"tick","color":"#555","size":8,"thickness":1},
  "encoding":{"x":{"field":"stage","type":"ordinal","scale":{"type":"band","domain":[1,2,3,4,5],"paddingInner":0,"paddingOuter":0}},
   "y":{"field":"upper","type":"quantitative","scale":{"domain":[0,0.04],"nice":false}}}},
 {"data":{"name":"expr"},"transform":[{"filter":"datum.gene === 'GmDGAT1A'"}],"mark":{"type":"point","filled":true,"opacity":1},
  "encoding":{"x":{"field":"stage","type":"ordinal","scale":{"type":"band","domain":[1,2,3,4,5],"paddingInner":0,"paddingOuter":0}},
   "y":{"field":"value","type":"quantitative","scale":{"domain":[0,0.04],"nice":false}},
   "color":{"field":"series","type":"nominal"},
   "stroke":{"field":"series","type":"nominal"},
   "shape":{"condition":[{"test":"datum.series === 'KD1-h'","value":"square"},{"test":"datum.series === 'KD2-h'","value":"triangle-up"},{"test":"datum.series === 'WT-h'","value":"M-1,-1L1,1M-1,1L1,-1"},{"test":"datum.series === 'KD1-n'","value":"M0,-1V1M-0.87,-0.5L0.87,0.5M-0.87,0.5L0.87,-0.5"},{"test":"datum.series === 'KD2-n'","value":"circle"}],"value":"M-1,0H1M0,-1V1"},
   "size":{"condition":[{"test":"datum.series === 'KD1-h'","value":115},{"test":"datum.series === 'KD2-h'","value":135},{"test":"datum.series === 'WT-h'","value":190},{"test":"datum.series === 'KD2-n'","value":58}],"value":62},
   "strokeWidth":{"condition":[{"test":"datum.series === 'WT-h'","value":2.6},{"test":"datum.series === 'KD1-n' || datum.series === 'WT-n'","value":1.4}],"value":1}}},
 {"data":{"name":"sig"},"transform":[{"filter":"datum.gene === 'GmDGAT1A'"}],"mark":{"type":"text","font":"'Liberation Serif', 'Times New Roman', serif","fontSize":17,"color":"#555","lineHeight":10,"baseline":"bottom","dy":-4},
  "encoding":{"x":{"field":"stage","type":"ordinal","scale":{"type":"band","domain":[1,2,3,4,5],"paddingInner":0,"paddingOuter":0}},
   "y":{"field":"y","type":"quantitative","scale":{"domain":[0,0.04],"nice":false}},"text":{"value":["*","*"]}}},
 {"data":{"values":[{"gene":"GmDGAT1A"}]},"mark":{"type":"text","font":"'Liberation Serif', 'Times New Roman', serif","fontSize":20,"fontWeight":"bold","fontStyle":"italic","color":"#23238E","align":"right","baseline":"middle","dx":20,"dy":0},
  "encoding":{"x":{"datum":5,"type":"ordinal","scale":{"type":"band","domain":[1,2,3,4,5],"paddingInner":0,"paddingOuter":0}},
   "y":{"datum":0.04,"type":"quantitative","scale":{"domain":[0,0.04],"nice":false}},"text":{"field":"gene"}}}
]},

{"width": 304, "height": 195, "layer": [
 {"data":{"name":"expr"},"transform":[{"filter":"datum.gene === 'GmDGAT1C' && indexof(datum.series, '-h') > 0"}],"mark":{"type":"line","strokeWidth":3.5},
  "encoding":{"x":{"field":"stage","type":"ordinal","scale":{"type":"band","domain":[1,2,3,4,5],"paddingInner":0,"paddingOuter":0},"axis":{"labels":false,"title":null,"tickBand":"extent","tickSize":6}},
   "y":{"field":"value","type":"quantitative","scale":{"domain":[0,0.14],"nice":false},"axis":{"values":[0,0.02,0.04,0.06,0.08,0.1,0.12,0.14],"format":"~g","labelOverlap":false,"title":null}},
   "color":{"field":"series","type":"nominal"}}},
 {"data":{"name":"expr"},"transform":[{"filter":"datum.gene === 'GmDGAT1C' && indexof(datum.series, '-n') > 0"}],"mark":{"type":"line","strokeWidth":1.6},
  "encoding":{"x":{"field":"stage","type":"ordinal","scale":{"type":"band","domain":[1,2,3,4,5],"paddingInner":0,"paddingOuter":0}},
   "y":{"field":"value","type":"quantitative","scale":{"domain":[0,0.14],"nice":false}},
   "color":{"field":"series","type":"nominal"}}},
 {"data":{"name":"expr"},"transform":[{"filter":"datum.gene === 'GmDGAT1C' && isValid(datum.upper)"}],"mark":{"type":"rule","color":"#555","strokeWidth":1},
  "encoding":{"x":{"field":"stage","type":"ordinal","scale":{"type":"band","domain":[1,2,3,4,5],"paddingInner":0,"paddingOuter":0}},
   "y":{"field":"value","type":"quantitative","scale":{"domain":[0,0.14],"nice":false}},"y2":{"field":"upper"}}},
 {"data":{"name":"expr"},"transform":[{"filter":"datum.gene === 'GmDGAT1C' && isValid(datum.upper)"}],"mark":{"type":"tick","color":"#555","size":8,"thickness":1},
  "encoding":{"x":{"field":"stage","type":"ordinal","scale":{"type":"band","domain":[1,2,3,4,5],"paddingInner":0,"paddingOuter":0}},
   "y":{"field":"upper","type":"quantitative","scale":{"domain":[0,0.14],"nice":false}}}},
 {"data":{"name":"expr"},"transform":[{"filter":"datum.gene === 'GmDGAT1C'"}],"mark":{"type":"point","filled":true,"opacity":1},
  "encoding":{"x":{"field":"stage","type":"ordinal","scale":{"type":"band","domain":[1,2,3,4,5],"paddingInner":0,"paddingOuter":0}},
   "y":{"field":"value","type":"quantitative","scale":{"domain":[0,0.14],"nice":false}},
   "color":{"field":"series","type":"nominal"},
   "stroke":{"field":"series","type":"nominal"},
   "shape":{"condition":[{"test":"datum.series === 'KD1-h'","value":"square"},{"test":"datum.series === 'KD2-h'","value":"triangle-up"},{"test":"datum.series === 'WT-h'","value":"M-1,-1L1,1M-1,1L1,-1"},{"test":"datum.series === 'KD1-n'","value":"M0,-1V1M-0.87,-0.5L0.87,0.5M-0.87,0.5L0.87,-0.5"},{"test":"datum.series === 'KD2-n'","value":"circle"}],"value":"M-1,0H1M0,-1V1"},
   "size":{"condition":[{"test":"datum.series === 'KD1-h'","value":115},{"test":"datum.series === 'KD2-h'","value":135},{"test":"datum.series === 'WT-h'","value":190},{"test":"datum.series === 'KD2-n'","value":58}],"value":62},
   "strokeWidth":{"condition":[{"test":"datum.series === 'WT-h'","value":2.6},{"test":"datum.series === 'KD1-n' || datum.series === 'WT-n'","value":1.4}],"value":1}}},
 {"data":{"name":"sig"},"transform":[{"filter":"datum.gene === 'GmDGAT1C'"}],"mark":{"type":"text","font":"'Liberation Serif', 'Times New Roman', serif","fontSize":17,"color":"#555","lineHeight":10,"baseline":"bottom","dy":-4},
  "encoding":{"x":{"field":"stage","type":"ordinal","scale":{"type":"band","domain":[1,2,3,4,5],"paddingInner":0,"paddingOuter":0}},
   "y":{"field":"y","type":"quantitative","scale":{"domain":[0,0.14],"nice":false}},"text":{"value":["*","*"]}}},
 {"data":{"values":[{"gene":"GmDGAT1C"}]},"mark":{"type":"text","font":"'Liberation Serif', 'Times New Roman', serif","fontSize":20,"fontWeight":"bold","fontStyle":"italic","color":"#23238E","align":"right","baseline":"middle","dx":24,"dy":1},
  "encoding":{"x":{"datum":5,"type":"ordinal","scale":{"type":"band","domain":[1,2,3,4,5],"paddingInner":0,"paddingOuter":0}},
   "y":{"datum":0.14,"type":"quantitative","scale":{"domain":[0,0.14],"nice":false}},"text":{"field":"gene"}}}
]},

{"width": 304, "height": 195, "layer": [
 {"data":{"name":"expr"},"transform":[{"filter":"datum.gene === 'GmDGAT3B' && indexof(datum.series, '-h') > 0"}],"mark":{"type":"line","strokeWidth":3.5},
  "encoding":{"x":{"field":"stage","type":"ordinal","scale":{"type":"band","domain":[1,2,3,4,5],"paddingInner":0,"paddingOuter":0},"axis":{"labels":false,"title":null,"tickBand":"extent","tickSize":6}},
   "y":{"field":"value","type":"quantitative","scale":{"domain":[0,30],"nice":false},"axis":{"values":[0,5,10,15,20,25,30],"format":"~g","labelOverlap":false,"title":["Relative expression","(Ratio to GmACTIN)"]}},
   "color":{"field":"series","type":"nominal"}}},
 {"data":{"name":"expr"},"transform":[{"filter":"datum.gene === 'GmDGAT3B' && indexof(datum.series, '-n') > 0"}],"mark":{"type":"line","strokeWidth":1.6},
  "encoding":{"x":{"field":"stage","type":"ordinal","scale":{"type":"band","domain":[1,2,3,4,5],"paddingInner":0,"paddingOuter":0}},
   "y":{"field":"value","type":"quantitative","scale":{"domain":[0,30],"nice":false}},
   "color":{"field":"series","type":"nominal"}}},
 {"data":{"name":"expr"},"transform":[{"filter":"datum.gene === 'GmDGAT3B' && isValid(datum.upper)"}],"mark":{"type":"rule","color":"#555","strokeWidth":1},
  "encoding":{"x":{"field":"stage","type":"ordinal","scale":{"type":"band","domain":[1,2,3,4,5],"paddingInner":0,"paddingOuter":0}},
   "y":{"field":"value","type":"quantitative","scale":{"domain":[0,30],"nice":false}},"y2":{"field":"upper"}}},
 {"data":{"name":"expr"},"transform":[{"filter":"datum.gene === 'GmDGAT3B' && isValid(datum.upper)"}],"mark":{"type":"tick","color":"#555","size":8,"thickness":1},
  "encoding":{"x":{"field":"stage","type":"ordinal","scale":{"type":"band","domain":[1,2,3,4,5],"paddingInner":0,"paddingOuter":0}},
   "y":{"field":"upper","type":"quantitative","scale":{"domain":[0,30],"nice":false}}}},
 {"data":{"name":"expr"},"transform":[{"filter":"datum.gene === 'GmDGAT3B'"}],"mark":{"type":"point","filled":true,"opacity":1},
  "encoding":{"x":{"field":"stage","type":"ordinal","scale":{"type":"band","domain":[1,2,3,4,5],"paddingInner":0,"paddingOuter":0}},
   "y":{"field":"value","type":"quantitative","scale":{"domain":[0,30],"nice":false}},
   "color":{"field":"series","type":"nominal"},
   "stroke":{"field":"series","type":"nominal"},
   "shape":{"condition":[{"test":"datum.series === 'KD1-h'","value":"square"},{"test":"datum.series === 'KD2-h'","value":"triangle-up"},{"test":"datum.series === 'WT-h'","value":"M-1,-1L1,1M-1,1L1,-1"},{"test":"datum.series === 'KD1-n'","value":"M0,-1V1M-0.87,-0.5L0.87,0.5M-0.87,0.5L0.87,-0.5"},{"test":"datum.series === 'KD2-n'","value":"circle"}],"value":"M-1,0H1M0,-1V1"},
   "size":{"condition":[{"test":"datum.series === 'KD1-h'","value":115},{"test":"datum.series === 'KD2-h'","value":135},{"test":"datum.series === 'WT-h'","value":190},{"test":"datum.series === 'KD2-n'","value":58}],"value":62},
   "strokeWidth":{"condition":[{"test":"datum.series === 'WT-h'","value":2.6},{"test":"datum.series === 'KD1-n' || datum.series === 'WT-n'","value":1.4}],"value":1}}},
 {"data":{"name":"sig"},"transform":[{"filter":"datum.gene === 'GmDGAT3B'"}],"mark":{"type":"text","font":"'Liberation Serif', 'Times New Roman', serif","fontSize":17,"color":"#555","lineHeight":10,"baseline":"bottom","dy":-4},
  "encoding":{"x":{"field":"stage","type":"ordinal","scale":{"type":"band","domain":[1,2,3,4,5],"paddingInner":0,"paddingOuter":0}},
   "y":{"field":"y","type":"quantitative","scale":{"domain":[0,30],"nice":false}},"text":{"value":["*","*"]}}},
 {"data":{"values":[{"gene":"GmDGAT3B"}]},"mark":{"type":"text","font":"'Liberation Serif', 'Times New Roman', serif","fontSize":20,"fontWeight":"bold","fontStyle":"italic","color":"#23238E","align":"left","baseline":"middle","dx":-8,"dy":8},
  "encoding":{"x":{"datum":1,"type":"ordinal","scale":{"type":"band","domain":[1,2,3,4,5],"paddingInner":0,"paddingOuter":0}},
   "y":{"datum":30,"type":"quantitative","scale":{"domain":[0,30],"nice":false}},"text":{"field":"gene"}}}
]},

{"width": 304, "height": 195, "layer": [
 {"data":{"name":"expr"},"transform":[{"filter":"datum.gene === 'GmPDAT1B' && indexof(datum.series, '-h') > 0"}],"mark":{"type":"line","strokeWidth":3.5},
  "encoding":{"x":{"field":"stage","type":"ordinal","scale":{"type":"band","domain":[1,2,3,4,5],"paddingInner":0,"paddingOuter":0},"axis":{"labels":false,"title":null,"tickBand":"extent","tickSize":6}},
   "y":{"field":"value","type":"quantitative","scale":{"domain":[0,0.2],"nice":false},"axis":{"values":[0,0.05,0.1,0.15,0.2],"format":"~g","labelOverlap":false,"title":null}},
   "color":{"field":"series","type":"nominal"}}},
 {"data":{"name":"expr"},"transform":[{"filter":"datum.gene === 'GmPDAT1B' && indexof(datum.series, '-n') > 0"}],"mark":{"type":"line","strokeWidth":1.6},
  "encoding":{"x":{"field":"stage","type":"ordinal","scale":{"type":"band","domain":[1,2,3,4,5],"paddingInner":0,"paddingOuter":0}},
   "y":{"field":"value","type":"quantitative","scale":{"domain":[0,0.2],"nice":false}},
   "color":{"field":"series","type":"nominal"}}},
 {"data":{"name":"expr"},"transform":[{"filter":"datum.gene === 'GmPDAT1B' && isValid(datum.upper)"}],"mark":{"type":"rule","color":"#555","strokeWidth":1},
  "encoding":{"x":{"field":"stage","type":"ordinal","scale":{"type":"band","domain":[1,2,3,4,5],"paddingInner":0,"paddingOuter":0}},
   "y":{"field":"value","type":"quantitative","scale":{"domain":[0,0.2],"nice":false}},"y2":{"field":"upper"}}},
 {"data":{"name":"expr"},"transform":[{"filter":"datum.gene === 'GmPDAT1B' && isValid(datum.upper)"}],"mark":{"type":"tick","color":"#555","size":8,"thickness":1},
  "encoding":{"x":{"field":"stage","type":"ordinal","scale":{"type":"band","domain":[1,2,3,4,5],"paddingInner":0,"paddingOuter":0}},
   "y":{"field":"upper","type":"quantitative","scale":{"domain":[0,0.2],"nice":false}}}},
 {"data":{"name":"expr"},"transform":[{"filter":"datum.gene === 'GmPDAT1B'"}],"mark":{"type":"point","filled":true,"opacity":1},
  "encoding":{"x":{"field":"stage","type":"ordinal","scale":{"type":"band","domain":[1,2,3,4,5],"paddingInner":0,"paddingOuter":0}},
   "y":{"field":"value","type":"quantitative","scale":{"domain":[0,0.2],"nice":false}},
   "color":{"field":"series","type":"nominal"},
   "stroke":{"field":"series","type":"nominal"},
   "shape":{"condition":[{"test":"datum.series === 'KD1-h'","value":"square"},{"test":"datum.series === 'KD2-h'","value":"triangle-up"},{"test":"datum.series === 'WT-h'","value":"M-1,-1L1,1M-1,1L1,-1"},{"test":"datum.series === 'KD1-n'","value":"M0,-1V1M-0.87,-0.5L0.87,0.5M-0.87,0.5L0.87,-0.5"},{"test":"datum.series === 'KD2-n'","value":"circle"}],"value":"M-1,0H1M0,-1V1"},
   "size":{"condition":[{"test":"datum.series === 'KD1-h'","value":115},{"test":"datum.series === 'KD2-h'","value":135},{"test":"datum.series === 'WT-h'","value":190},{"test":"datum.series === 'KD2-n'","value":58}],"value":62},
   "strokeWidth":{"condition":[{"test":"datum.series === 'WT-h'","value":2.6},{"test":"datum.series === 'KD1-n' || datum.series === 'WT-n'","value":1.4}],"value":1}}},
 {"data":{"name":"sig"},"transform":[{"filter":"datum.gene === 'GmPDAT1B'"}],"mark":{"type":"text","font":"'Liberation Serif', 'Times New Roman', serif","fontSize":17,"color":"#555","lineHeight":10,"baseline":"bottom","dy":-4},
  "encoding":{"x":{"field":"stage","type":"ordinal","scale":{"type":"band","domain":[1,2,3,4,5],"paddingInner":0,"paddingOuter":0}},
   "y":{"field":"y","type":"quantitative","scale":{"domain":[0,0.2],"nice":false}},"text":{"value":["*","*"]}}},
 {"data":{"values":[{"gene":"GmPDAT1B"}]},"mark":{"type":"text","font":"'Liberation Serif', 'Times New Roman', serif","fontSize":20,"fontWeight":"bold","fontStyle":"italic","color":"#23238E","align":"left","baseline":"middle","dx":-7,"dy":6},
  "encoding":{"x":{"datum":1,"type":"ordinal","scale":{"type":"band","domain":[1,2,3,4,5],"paddingInner":0,"paddingOuter":0}},
   "y":{"datum":0.2,"type":"quantitative","scale":{"domain":[0,0.2],"nice":false}},"text":{"field":"gene"}}}
]},

{"width": 304, "height": 195, "layer": [
 {"data":{"name":"expr"},"transform":[{"filter":"datum.gene === 'GmLPAAT2α1' && indexof(datum.series, '-h') > 0"}],"mark":{"type":"line","strokeWidth":3.5},
  "encoding":{"x":{"field":"stage","type":"ordinal","scale":{"type":"band","domain":[1,2,3,4,5],"paddingInner":0,"paddingOuter":0},"axis":{"title":"Developmental stage","tickBand":"extent","tickSize":6,"labelAngle":0,"labelPadding":5,"titleFontSize":22,"titlePadding":3}},
   "y":{"field":"value","type":"quantitative","scale":{"domain":[0,0.03],"nice":false},"axis":{"values":[0,0.01,0.02,0.03],"format":"~g","labelOverlap":false,"title":["Relative expression","(Ratio to GmACTIN)"]}},
   "color":{"field":"series","type":"nominal"}}},
 {"data":{"name":"expr"},"transform":[{"filter":"datum.gene === 'GmLPAAT2α1' && indexof(datum.series, '-n') > 0"}],"mark":{"type":"line","strokeWidth":1.6},
  "encoding":{"x":{"field":"stage","type":"ordinal","scale":{"type":"band","domain":[1,2,3,4,5],"paddingInner":0,"paddingOuter":0}},
   "y":{"field":"value","type":"quantitative","scale":{"domain":[0,0.03],"nice":false}},
   "color":{"field":"series","type":"nominal"}}},
 {"data":{"name":"expr"},"transform":[{"filter":"datum.gene === 'GmLPAAT2α1' && isValid(datum.upper)"}],"mark":{"type":"rule","color":"#555","strokeWidth":1},
  "encoding":{"x":{"field":"stage","type":"ordinal","scale":{"type":"band","domain":[1,2,3,4,5],"paddingInner":0,"paddingOuter":0}},
   "y":{"field":"value","type":"quantitative","scale":{"domain":[0,0.03],"nice":false}},"y2":{"field":"upper"}}},
 {"data":{"name":"expr"},"transform":[{"filter":"datum.gene === 'GmLPAAT2α1' && isValid(datum.upper)"}],"mark":{"type":"tick","color":"#555","size":8,"thickness":1},
  "encoding":{"x":{"field":"stage","type":"ordinal","scale":{"type":"band","domain":[1,2,3,4,5],"paddingInner":0,"paddingOuter":0}},
   "y":{"field":"upper","type":"quantitative","scale":{"domain":[0,0.03],"nice":false}}}},
 {"data":{"name":"expr"},"transform":[{"filter":"datum.gene === 'GmLPAAT2α1'"}],"mark":{"type":"point","filled":true,"opacity":1},
  "encoding":{"x":{"field":"stage","type":"ordinal","scale":{"type":"band","domain":[1,2,3,4,5],"paddingInner":0,"paddingOuter":0}},
   "y":{"field":"value","type":"quantitative","scale":{"domain":[0,0.03],"nice":false}},
   "color":{"field":"series","type":"nominal"},
   "stroke":{"field":"series","type":"nominal"},
   "shape":{"condition":[{"test":"datum.series === 'KD1-h'","value":"square"},{"test":"datum.series === 'KD2-h'","value":"triangle-up"},{"test":"datum.series === 'WT-h'","value":"M-1,-1L1,1M-1,1L1,-1"},{"test":"datum.series === 'KD1-n'","value":"M0,-1V1M-0.87,-0.5L0.87,0.5M-0.87,0.5L0.87,-0.5"},{"test":"datum.series === 'KD2-n'","value":"circle"}],"value":"M-1,0H1M0,-1V1"},
   "size":{"condition":[{"test":"datum.series === 'KD1-h'","value":115},{"test":"datum.series === 'KD2-h'","value":135},{"test":"datum.series === 'WT-h'","value":190},{"test":"datum.series === 'KD2-n'","value":58}],"value":62},
   "strokeWidth":{"condition":[{"test":"datum.series === 'WT-h'","value":2.6},{"test":"datum.series === 'KD1-n' || datum.series === 'WT-n'","value":1.4}],"value":1}}},
 {"data":{"name":"sig"},"transform":[{"filter":"datum.gene === 'GmLPAAT2α1'"}],"mark":{"type":"text","font":"'Liberation Serif', 'Times New Roman', serif","fontSize":17,"color":"#555","lineHeight":10,"baseline":"bottom","dy":-4},
  "encoding":{"x":{"field":"stage","type":"ordinal","scale":{"type":"band","domain":[1,2,3,4,5],"paddingInner":0,"paddingOuter":0}},
   "y":{"field":"y","type":"quantitative","scale":{"domain":[0,0.03],"nice":false}},"text":{"value":["*","*"]}}},
 {"data":{"values":[{"gene":"GmLPAAT2α1"}]},"mark":{"type":"text","font":"'Liberation Serif', 'Times New Roman', serif","fontSize":20,"fontWeight":"bold","fontStyle":"italic","color":"#23238E","align":"left","baseline":"middle","dx":-18,"dy":1},
  "encoding":{"x":{"datum":1,"type":"ordinal","scale":{"type":"band","domain":[1,2,3,4,5],"paddingInner":0,"paddingOuter":0}},
   "y":{"datum":0.03,"type":"quantitative","scale":{"domain":[0,0.03],"nice":false}},"text":{"field":"gene"}}}
]},

{"width": 304, "height": 195, "layer": [
 {"data":{"name":"expr"},"transform":[{"filter":"datum.gene === 'GmLPAAT2α2' && indexof(datum.series, '-h') > 0"}],"mark":{"type":"line","strokeWidth":3.5},
  "encoding":{"x":{"field":"stage","type":"ordinal","scale":{"type":"band","domain":[1,2,3,4,5],"paddingInner":0,"paddingOuter":0},"axis":{"title":"Developmental stage","tickBand":"extent","tickSize":6,"labelAngle":0,"labelPadding":5,"titleFontSize":22,"titlePadding":3}},
   "y":{"field":"value","type":"quantitative","scale":{"domain":[0,0.5],"nice":false},"axis":{"values":[0,0.1,0.2,0.3,0.4,0.5],"format":"~g","labelOverlap":false,"title":null}},
   "color":{"field":"series","type":"nominal"}}},
 {"data":{"name":"expr"},"transform":[{"filter":"datum.gene === 'GmLPAAT2α2' && indexof(datum.series, '-n') > 0"}],"mark":{"type":"line","strokeWidth":1.6},
  "encoding":{"x":{"field":"stage","type":"ordinal","scale":{"type":"band","domain":[1,2,3,4,5],"paddingInner":0,"paddingOuter":0}},
   "y":{"field":"value","type":"quantitative","scale":{"domain":[0,0.5],"nice":false}},
   "color":{"field":"series","type":"nominal"}}},
 {"data":{"name":"expr"},"transform":[{"filter":"datum.gene === 'GmLPAAT2α2' && isValid(datum.upper)"}],"mark":{"type":"rule","color":"#555","strokeWidth":1},
  "encoding":{"x":{"field":"stage","type":"ordinal","scale":{"type":"band","domain":[1,2,3,4,5],"paddingInner":0,"paddingOuter":0}},
   "y":{"field":"value","type":"quantitative","scale":{"domain":[0,0.5],"nice":false}},"y2":{"field":"upper"}}},
 {"data":{"name":"expr"},"transform":[{"filter":"datum.gene === 'GmLPAAT2α2' && isValid(datum.upper)"}],"mark":{"type":"tick","color":"#555","size":8,"thickness":1},
  "encoding":{"x":{"field":"stage","type":"ordinal","scale":{"type":"band","domain":[1,2,3,4,5],"paddingInner":0,"paddingOuter":0}},
   "y":{"field":"upper","type":"quantitative","scale":{"domain":[0,0.5],"nice":false}}}},
 {"data":{"name":"expr"},"transform":[{"filter":"datum.gene === 'GmLPAAT2α2'"}],"mark":{"type":"point","filled":true,"opacity":1},
  "encoding":{"x":{"field":"stage","type":"ordinal","scale":{"type":"band","domain":[1,2,3,4,5],"paddingInner":0,"paddingOuter":0}},
   "y":{"field":"value","type":"quantitative","scale":{"domain":[0,0.5],"nice":false}},
   "color":{"field":"series","type":"nominal"},
   "stroke":{"field":"series","type":"nominal"},
   "shape":{"condition":[{"test":"datum.series === 'KD1-h'","value":"square"},{"test":"datum.series === 'KD2-h'","value":"triangle-up"},{"test":"datum.series === 'WT-h'","value":"M-1,-1L1,1M-1,1L1,-1"},{"test":"datum.series === 'KD1-n'","value":"M0,-1V1M-0.87,-0.5L0.87,0.5M-0.87,0.5L0.87,-0.5"},{"test":"datum.series === 'KD2-n'","value":"circle"}],"value":"M-1,0H1M0,-1V1"},
   "size":{"condition":[{"test":"datum.series === 'KD1-h'","value":115},{"test":"datum.series === 'KD2-h'","value":135},{"test":"datum.series === 'WT-h'","value":190},{"test":"datum.series === 'KD2-n'","value":58}],"value":62},
   "strokeWidth":{"condition":[{"test":"datum.series === 'WT-h'","value":2.6},{"test":"datum.series === 'KD1-n' || datum.series === 'WT-n'","value":1.4}],"value":1}}},
 {"data":{"name":"sig"},"transform":[{"filter":"datum.gene === 'GmLPAAT2α2'"}],"mark":{"type":"text","font":"'Liberation Serif', 'Times New Roman', serif","fontSize":17,"color":"#555","lineHeight":10,"baseline":"bottom","dy":-4},
  "encoding":{"x":{"field":"stage","type":"ordinal","scale":{"type":"band","domain":[1,2,3,4,5],"paddingInner":0,"paddingOuter":0}},
   "y":{"field":"y","type":"quantitative","scale":{"domain":[0,0.5],"nice":false}},"text":{"value":["*","*"]}}},
 {"data":{"values":[{"gene":"GmLPAAT2α2"}]},"mark":{"type":"text","font":"'Liberation Serif', 'Times New Roman', serif","fontSize":20,"fontWeight":"bold","fontStyle":"italic","color":"#23238E","align":"left","baseline":"middle","dx":-14,"dy":1},
  "encoding":{"x":{"datum":1,"type":"ordinal","scale":{"type":"band","domain":[1,2,3,4,5],"paddingInner":0,"paddingOuter":0}},
   "y":{"datum":0.5,"type":"quantitative","scale":{"domain":[0,0.5],"nice":false}},"text":{"field":"gene"}}}
]}
]
}
],
"config": {
 "view": {"stroke": null},
 "font": "'Liberation Serif', 'Times New Roman', serif",
 "axis": {"domainColor": "#8a8a8a", "tickColor": "#8a8a8a", "labelColor": "#000", "labelFont": "'Liberation Serif', 'Times New Roman', serif", "labelFontSize": 20, "labelOverlap": false, "titleFont": "'Liberation Serif', 'Times New Roman', serif", "titleFontWeight": "normal", "titleColor": "#000", "grid": false},
 "axisY": {"tickSize": 5, "labelPadding": 4, "titleFontSize": 23, "titlePadding": 10, "titleLineHeight": 25},
 "axisX": {"labelAngle": 0}
}
}
